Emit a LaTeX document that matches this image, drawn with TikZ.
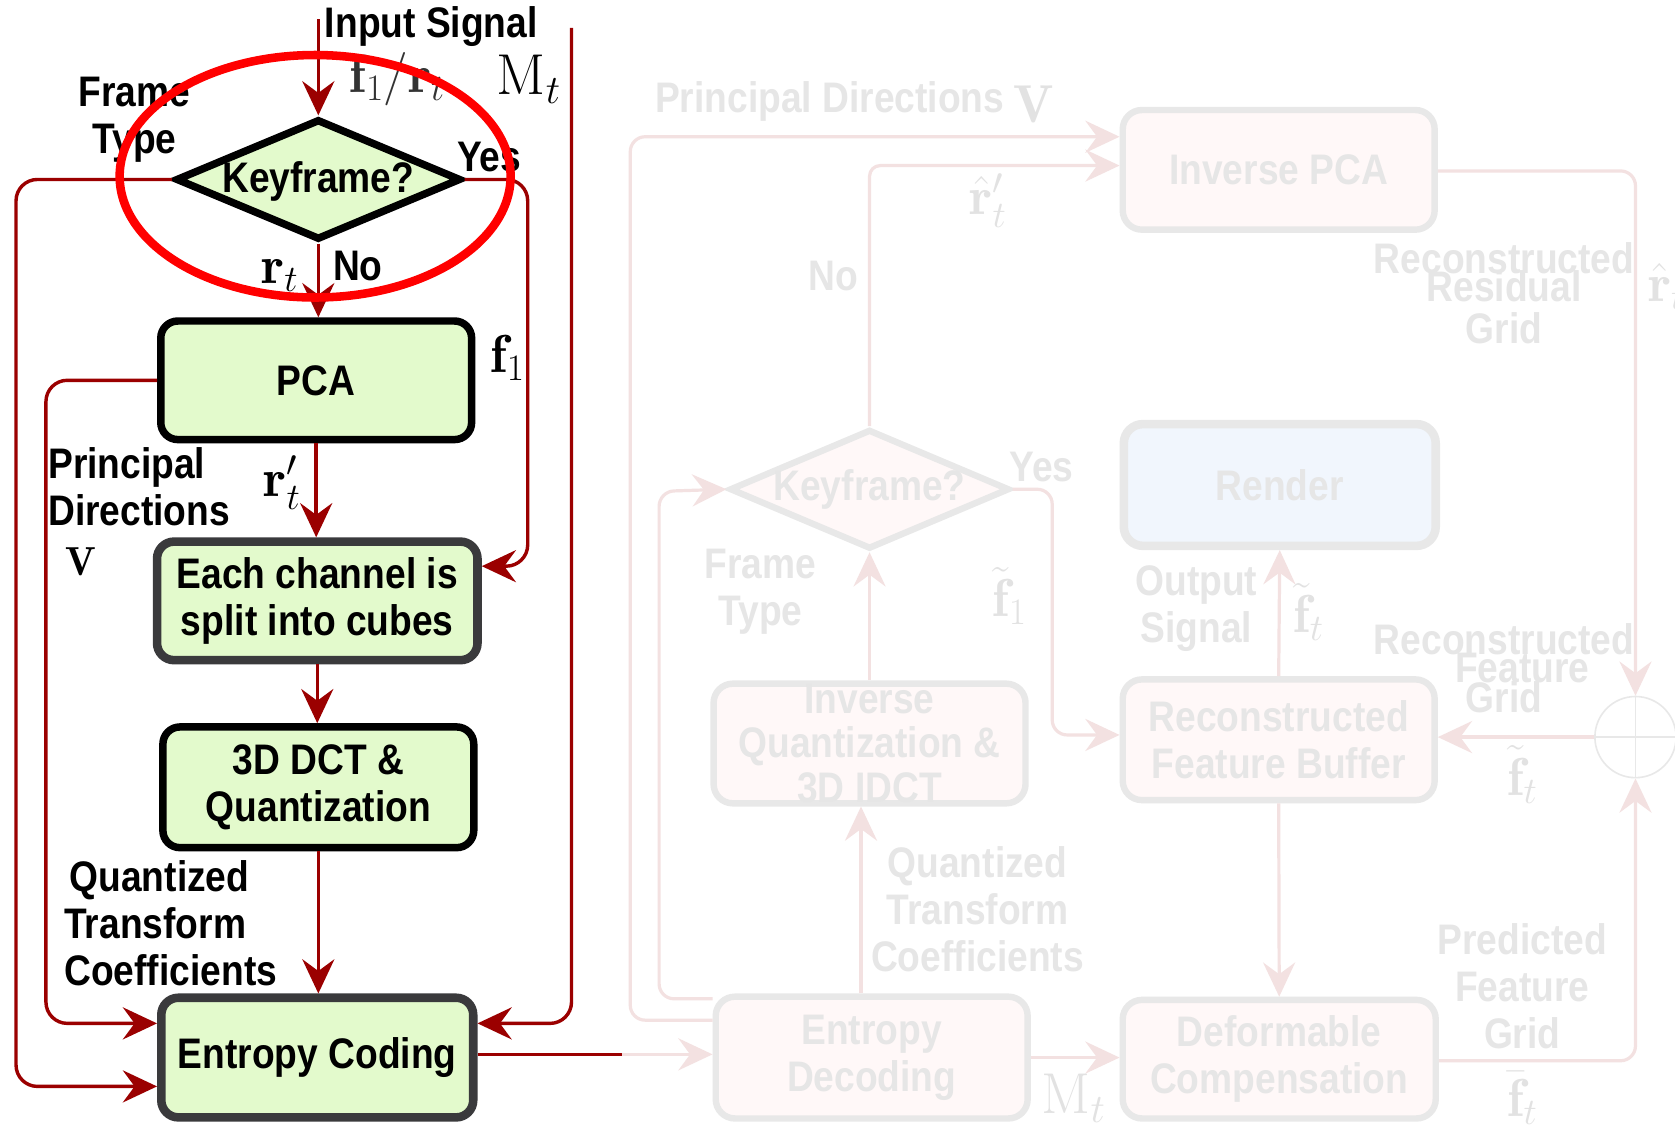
\RequirePackage{fix-cm}
\documentclass[tikz,border=0pt]{standalone}
\usepackage{fontspec}
\usetikzlibrary{arrows.meta,shapes.geometric}

\newfontfamily\narrowsans[FakeStretch=0.87]{Liberation Sans}
\newcommand{\boxfont}{\narrowsans\bfseries\fontsize{40}{44}\selectfont}
\newcommand{\symfont}{\fontsize{50}{56}\selectfont}

\definecolor{flowred}{HTML}{9B0000}
\definecolor{boxgreen}{HTML}{E3FACC}
\definecolor{edgegrey}{HTML}{3A3A3C}
\definecolor{ghosttext}{HTML}{E6E6E6}
\definecolor{ghostedge}{HTML}{E8E8E8}
\definecolor{ghostfill}{HTML}{FFF8F8}
\definecolor{ghostline}{HTML}{F3E1E1}
\definecolor{ghostblue}{HTML}{F1F6FD}
\definecolor{ghostmath}{HTML}{E2E2E2}

\tikzset{
  >={Stealth[length=32pt,width=30pt,inset=11pt]},
  txt/.style={font=\boxfont, inner sep=0pt, align=center},
  mth/.style={font=\symfont, inner sep=0pt},
  keybox/.style={draw=black, line width=7pt, fill=boxgreen, rounded corners=16pt,
                 inner sep=0pt, font=\boxfont, align=center},
  greybox/.style={keybox, draw=edgegrey, line width=8pt},
  keydiamond/.style={diamond, draw=black, line width=7pt, fill=boxgreen, inner sep=0pt},
  flow/.style={draw=flowred, line width=3.2pt, rounded corners=20pt},
  ghostbox/.style={draw=ghostedge, line width=6pt, fill=ghostfill, rounded corners=18pt,
                   inner sep=0pt, text=ghosttext, font=\boxfont, align=center},
  ghostflow/.style={draw=ghostline, line width=3pt, rounded corners=14pt},
  ghosttxt/.style={txt, text=ghosttext},
  ghostmth/.style={mth, text=ghostmath},
}

\begin{document}
\begin{tikzpicture}[x=1pt, y=-1pt]
\fill[white] (0,0) rectangle (1568,1054);
\useasboundingbox (0,0) rectangle (1568,1054);

% ---------------- decoder (faded) ----------------
\node[ghostbox, minimum width=292, minimum height=114] (dec) at (816,990) {};
\node[ghosttxt] (dectext) at (dec) {Entropy\\Decoding};
\node[ghostbox, minimum width=292, minimum height=112] (iq) at (814,696) {};
\node[ghosttxt, font=\narrowsans\bfseries\fontsize{40}{42}\selectfont] (iqtext) at (iq) {Inverse\\Quantization \&\\3D IDCT};
\node[ghostbox, minimum width=292, minimum height=112] (ipca) at (1197,159) {Inverse PCA};
\node[ghostbox, line width=8pt, fill=ghostblue, minimum width=292, minimum height=114] (render) at (1198,454) {Render};
\node[ghostbox, minimum width=292, minimum height=113] (rfb) at (1197,692.5) {Reconstructed\\Feature Buffer};
\node[ghostbox, minimum width=293, minimum height=111] (dc) at (1197.5,991.5) {Deformable\\Compensation};
\node[diamond, draw=ghostedge, line width=6pt, fill=ghostfill, minimum width=262, minimum height=112, inner sep=0pt] (kf2) at (814,458) {};
\node[ghosttxt] (kf2text) at (kf2) {Keyframe?};
\node[circle, draw=ghostedge, line width=1.5pt, minimum size=76, inner sep=0pt] (sum) at (1531,690) {};
\draw[ghostedge, line width=1.5pt] (sum.north) -- (sum.south) (sum.west) -- (sum.east);

\draw[ghostflow,->] (dec.west |- 0,955) -- (590,955) -- (590,128) -- (ipca.west |- 0,128);
\draw[ghostflow,->] (dec.west |- 0,935) -- (617,935) -- (617,460) -- (kf2.west);
\draw[ghostflow,->] (iq.north) -- (kf2.south);
\draw[ghostflow,->, rounded corners=10pt] (kf2.north) -- (814,155) -- (ipca.west |- 0,155);
\draw[ghostflow,->] (kf2.east) -- (985,458) -- (985,688) -- (rfb.west |- 0,688);
\draw[ghostflow,->] (dec.north -| 806,0) -- (iq.south -| 806,0);
\draw[ghostflow,->] (dec.east |- 0,990) -- (dc.west |- 0,990);
\draw[ghostflow,->] (rfb.north) -- (render.south);
\draw[ghostflow,->] (rfb.south) -- (dc.north);
\draw[ghostflow,->] (dc.east |- 0,993) -- (1531,993) -- (sum.south);
\draw[ghostflow,->] (ipca.east |- 0,160) -- (1531,160) -- (sum.north);
\draw[ghostflow,->] (sum.west) -- (rfb.east |- sum.west);

\node[ghosttxt, anchor=west] (pdlbl2) at (613,95) {Principal Directions};
\node[ghostmth] (vlbl2) at (968,98) {$\mathbf{V}$};
\node[ghosttxt] (nolbl2) at (780,258) {No};
\node[ghostmth] (rhplbl) at (925,188) {$\hat{\mathbf{r}}'_t$};
\node[ghosttxt] (rrg1) at (1408,242) {Reconstructed};
\node[ghosttxt] (rrg2) at (1408,268) {Residual};
\node[ghosttxt] (rrg3) at (1408,307) {Grid};
\node[ghostmth] (rhlbl) at (1560,268) {$\hat{\mathbf{r}}_t$};
\node[ghosttxt] (yes2) at (975,437) {Yes};
\node[ghosttxt] (ft2) at (712,554) {Frame\\Type};
\node[ghostmth] (f1t) at (945,558) {$\tilde{\mathbf{f}}_1$};
\node[ghosttxt] (outsig) at (1120,570) {Output\\Signal};
\node[ghostmth] (ftt1) at (1225,573) {$\tilde{\mathbf{f}}_t$};
\node[ghosttxt] (rfg1) at (1408,598) {Reconstructed};
\node[ghosttxt] (rfg2) at (1425,625) {Feature};
\node[ghosttxt] (rfg3) at (1408,653) {Grid};
\node[ghostmth] (ftt2) at (1425,725) {$\tilde{\mathbf{f}}_t$};
\node[ghosttxt] (qtc2) at (915,851) {Quantized\\Transform\\Coefficients};
\node[ghosttxt] (pfg) at (1425,923) {Predicted\\Feature\\Grid};
\node[ghostmth, font=\fontsize{54}{60}\selectfont] (mt2) at (1005,1028) {$\mathrm{M}_t$};
\node[ghostmth] (fbar) at (1425,1028) {$\bar{\mathbf{f}}_t$};

% ---------------- encoder ----------------
\node[keydiamond, minimum width=267, minimum height=113] (kf) at (298,168) {};
\node[txt] (kftext) at ([yshift=-2pt]kf) {Keyframe?};
\node[keybox, minimum width=291, minimum height=111] (pca) at (296,356) {PCA};
\node[greybox, minimum width=300, minimum height=111] (split) at (297,562.5) {Each channel is\\split into cubes};
\node[keybox, minimum width=291, minimum height=113] (dct) at (298,737) {3D DCT \&\\Quantization};
\node[greybox, minimum width=292, minimum height=112] (enc) at (297,990) {Entropy Coding};

\coordinate (srcin) at (298,18);
\coordinate (mtop) at (535,26);
\coordinate (handoff) at (582,987);

\draw[flow,->] (srcin) -- (kf.north);
\draw[flow,->] (kf.south) -- (kf.south |- pca.north);
\draw[flow,->] (pca.south) -- (pca.south |- split.north);
\draw[flow,->] (split.south) -- (split.south |- dct.north);
\draw[flow,->] (dct.south) -- (dct.south |- enc.north);
\draw[flow,->] (kf.east) -- (494,168) -- (494,530) -- (split.east |- 0,530);
\draw[flow,->] (kf.west) -- (15,168) -- (15,1017) -- (enc.west |- 0,1017);
\draw[flow,->] (pca.west) -- (43,356) -- (43,958) -- (enc.west |- 0,958);
\draw[flow,->] (mtop) -- (535,958) -- (enc.east |- 0,958);
\draw[flow] (enc.east |- handoff) -- (handoff);
\draw[ghostflow,->] (handoff) -- (dec.west |- handoff);

\node[txt, anchor=west] (insig) at (304,25) {Input Signal};
\node[mth, text=black!80] (inlbl) at (372,74) {$\mathbf{f}_1/\mathbf{r}_t$};
\node[mth, font=\fontsize{54}{60}\selectfont] (mlbl) at (495,74) {$\mathrm{M}_t$};
\node[txt] (ftlbl) at (126,112) {Frame\\Type};
\node[txt] (yeslbl) at (458,147) {Yes};
\node[mth] (rtlbl) at (262,258) {$\mathbf{r}_t$};
\node[txt] (nolbl) at (335,249) {No};
\node[mth] (f1lbl) at (475,335) {$\mathbf{f}_1$};
\node[txt, anchor=west, align=left] (pdlbl) at (45,456) {Principal\\Directions};
\node[mth, font=\fontsize{38}{44}\selectfont] (vlbl) at (76,526) {$\mathbf{V}$};
\node[mth] (rplbl) at (264,452) {$\mathbf{r}'_t$};
\node[txt, anchor=west, align=left] (qtlbl) at (60,864) {\hspace*{5pt}Quantized\\Transform\\Coefficients};

% highlight ring round the keyframe test
\node[ellipse, draw=red, line width=8pt, minimum width=366, minimum height=227, inner sep=0pt] (focus) at (295,165) {};
\end{tikzpicture}
\end{document}
